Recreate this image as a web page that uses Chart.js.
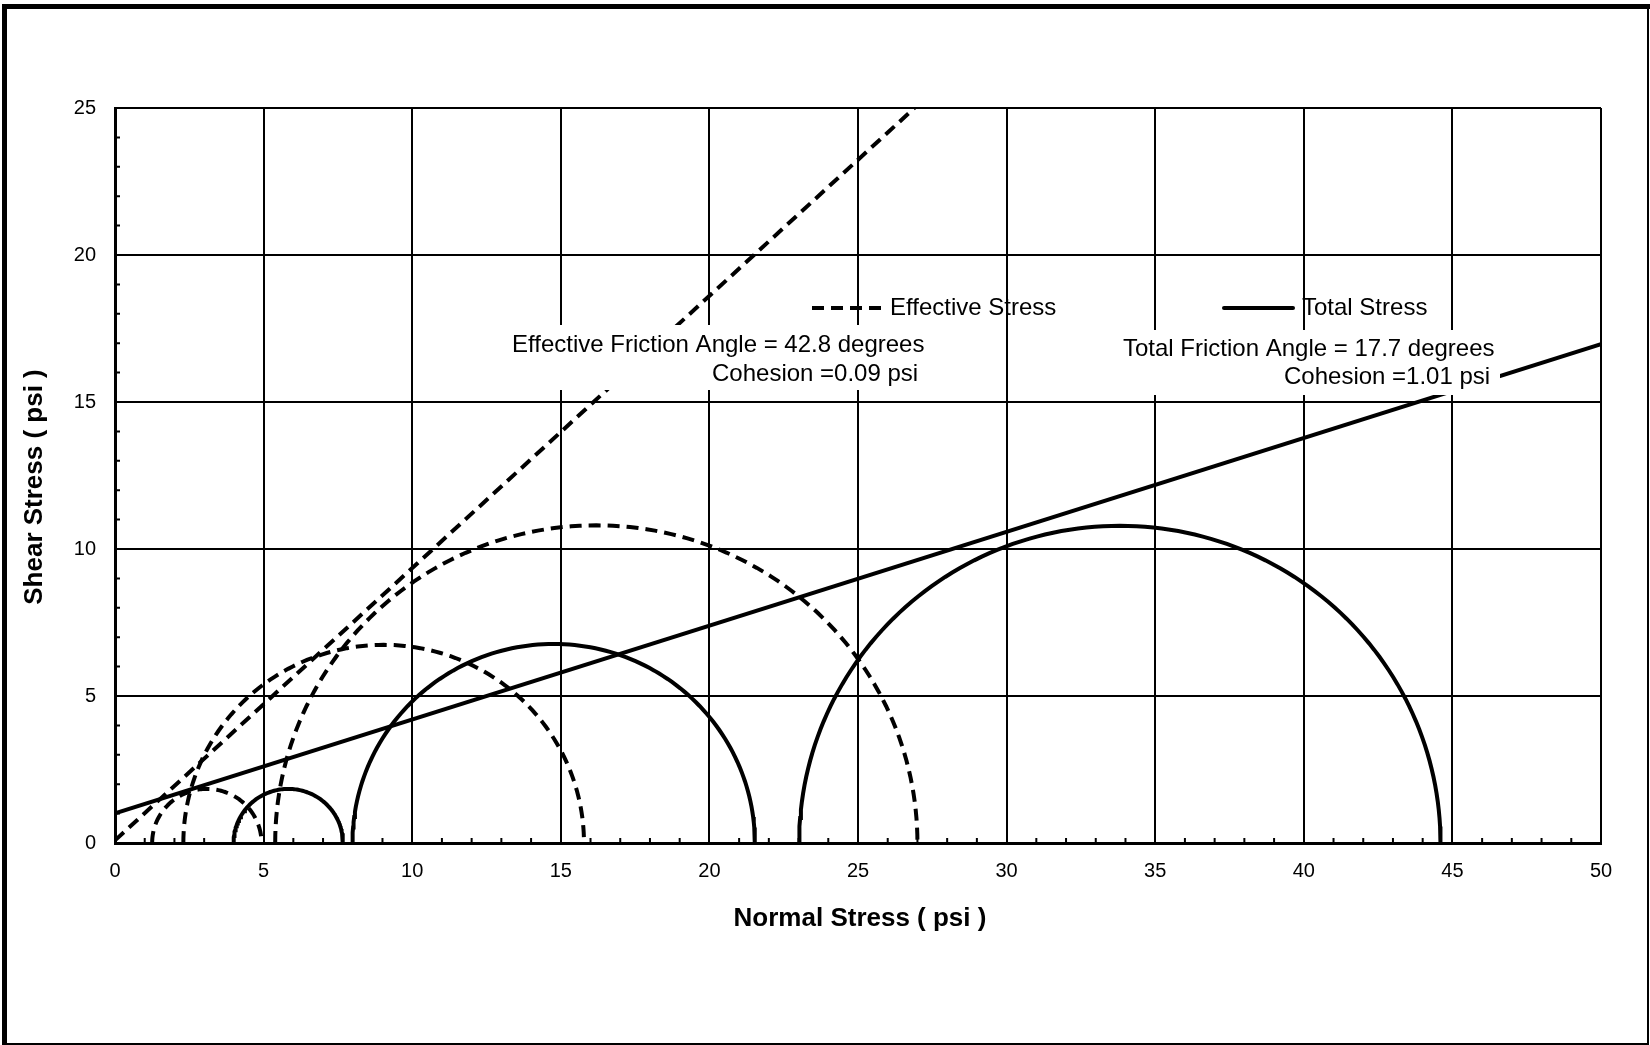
<!DOCTYPE html>
<html>
<head>
<meta charset="utf-8">
<title>Mohr Circles</title>
<script src="https://cdn.jsdelivr.net/npm/chart.js@4/dist/chart.umd.min.js"></script>
<style>
  html, body { margin: 0; padding: 0; background: #fff; }
  #wrap { width: 1650px; height: 1045px; }
</style>
</head>
<body>
<div id="wrap"><canvas id="mohr" width="1650" height="1045"></canvas></div>
<script>
// triaxial results, psi (minor / major principal stress per specimen)
const sigma3Eff = [1.25, 2.30, 5.39];
const sigma1Eff = [4.93, 15.78, 27.0];
const sigma3Tot = [3.99, 7.99, 23.02];
const sigma1Tot = [7.67, 21.53, 44.6];

// failure envelopes
const phiEff = 42.8, cEff = 0.09;
const phiTot = 17.7, cTot = 1.01;

// axes
const xMax = 50, yMax = 25, tickStep = 5;

const FONT = "'Liberation Sans', Arial, Helvetica, sans-serif";
const DASH = [12, 7];
const LW = 4;

function mohrCircle(s3, s1) {
  const c = (s1 + s3) / 2, r = (s1 - s3) / 2;
  const pts = [];
  for (let i = 0; i <= 120; i++) {
    const a = Math.PI * (1 - i / 120);
    pts.push({ x: c + r * Math.cos(a), y: r * Math.sin(a) });
  }
  return pts;
}

function envelope(c, phi) {
  const t = Math.tan(phi * Math.PI / 180);
  const xEnd = Math.min(xMax, (yMax - c) / t);
  return [{ x: 0, y: c }, { x: xEnd, y: c + t * xEnd }];
}

function lineSet(data, dashed) {
  return {
    data: data,
    showLine: true,
    borderColor: '#000',
    borderWidth: LW,
    borderDash: dashed ? DASH : [],
    pointRadius: 0,
    tension: 0,
    fill: false
  };
}

const datasets = [];
sigma3Eff.forEach((s3, i) => datasets.push(lineSet(mohrCircle(s3, sigma1Eff[i]), true)));
sigma3Tot.forEach((s3, i) => datasets.push(lineSet(mohrCircle(s3, sigma1Tot[i]), false)));
datasets.push(lineSet(envelope(cEff, phiEff), true));
datasets.push(lineSet(envelope(cTot, phiTot), false));

// labels, legend, minor ticks and frame
const decor = {
  id: 'decor',
  beforeDraw(chart) {
    const ctx = chart.ctx;
    ctx.save();
    ctx.fillStyle = '#fff';
    ctx.fillRect(0, 0, chart.width, chart.height);
    ctx.restore();
  },
  afterDatasetsDraw(chart) {
    const ctx = chart.ctx;
    ctx.save();
    ctx.fillStyle = '#fff';
    ctx.fillRect(505, 325, 425, 65);
    ctx.fillRect(1117, 330, 383, 65);
    ctx.fillStyle = '#000';
    ctx.font = '24px ' + FONT;
    ctx.textAlign = 'left';
    ctx.textBaseline = 'alphabetic';
    ctx.fillText('Effective Friction Angle = ' + phiEff.toFixed(1) + ' degrees', 512, 352);
    ctx.fillText('Cohesion =' + cEff.toFixed(2) + ' psi', 712, 381);
    ctx.fillText('Total Friction Angle = ' + phiTot.toFixed(1) + ' degrees', 1123, 356);
    ctx.fillText('Cohesion =' + cTot.toFixed(2) + ' psi', 1284, 384);
    ctx.restore();
  },
  afterDraw(chart) {
    const ctx = chart.ctx;
    const { left, right, top, bottom } = chart.chartArea;
    const xs = chart.scales.x, ys = chart.scales.y;
    ctx.save();

    // minor ticks every 1 psi, pointing inward
    ctx.strokeStyle = '#000';
    ctx.lineWidth = 2;
    ctx.beginPath();
    for (let v = 1; v < xMax; v++) {
      if (v % tickStep === 0) continue;
      const px = xs.getPixelForValue(v);
      ctx.moveTo(px, bottom);
      ctx.lineTo(px, bottom - 5);
    }
    for (let v = 1; v < yMax; v++) {
      if (v % tickStep === 0) continue;
      const py = ys.getPixelForValue(v);
      ctx.moveTo(left, py);
      ctx.lineTo(left + 5, py);
    }
    ctx.stroke();

    // legend
    ctx.lineWidth = LW;
    ctx.setLineDash(DASH);
    ctx.beginPath();
    ctx.moveTo(812, 308);
    ctx.lineTo(884, 308);
    ctx.stroke();
    ctx.setLineDash([]);
    ctx.lineCap = 'round';
    ctx.beginPath();
    ctx.moveTo(1224, 308);
    ctx.lineTo(1293, 308);
    ctx.stroke();
    ctx.fillStyle = '#000';
    ctx.font = '24px ' + FONT;
    ctx.textAlign = 'left';
    ctx.textBaseline = 'middle';
    ctx.fillText('Effective Stress', 890, 308);
    ctx.fillText('Total Stress', 1302, 308);

    // axis titles
    ctx.font = 'bold 26px ' + FONT;
    ctx.textAlign = 'center';
    ctx.fillText('Normal Stress ( psi )', (left + right) / 2 + 2, 919);
    ctx.translate(35, 487);
    ctx.rotate(-Math.PI / 2);
    ctx.fillText('Shear Stress ( psi )', 0, 0);
    ctx.setTransform(1, 0, 0, 1, 0, 0);

    // outer frame
    ctx.fillRect(2, 4, 1648, 5);
    ctx.fillRect(2, 4, 5, 1041);
    ctx.fillRect(1647, 4, 2, 1041);
    ctx.fillRect(2, 1043, 1647, 2);
    ctx.restore();
  }
};

const tickFont = { family: FONT, size: 20 };

new Chart(document.getElementById('mohr'), {
  type: 'scatter',
  data: { datasets: datasets },
  options: {
    responsive: false,
    animation: false,
    layout: { padding: { top: 108, right: 49, left: 0, bottom: 0 } },
    plugins: { legend: { display: false }, tooltip: { enabled: false } },
    scales: {
      x: {
        type: 'linear',
        min: 0,
        max: xMax,
        afterFit(scale) { scale.height = 202; },
        ticks: { stepSize: tickStep, font: tickFont, color: '#000', padding: 16, maxRotation: 0 },
        grid: { color: '#000', lineWidth: 2, drawTicks: false },
        border: { display: true, color: '#000', width: 3 }
      },
      y: {
        type: 'linear',
        min: 0,
        max: yMax,
        afterFit(scale) { scale.width = 115; },
        ticks: { stepSize: tickStep, font: tickFont, color: '#000', padding: 19 },
        grid: { color: '#000', lineWidth: 2, drawTicks: false },
        border: { display: true, color: '#000', width: 3 }
      }
    }
  },
  plugins: [decor]
});
</script>
</body>
</html>
